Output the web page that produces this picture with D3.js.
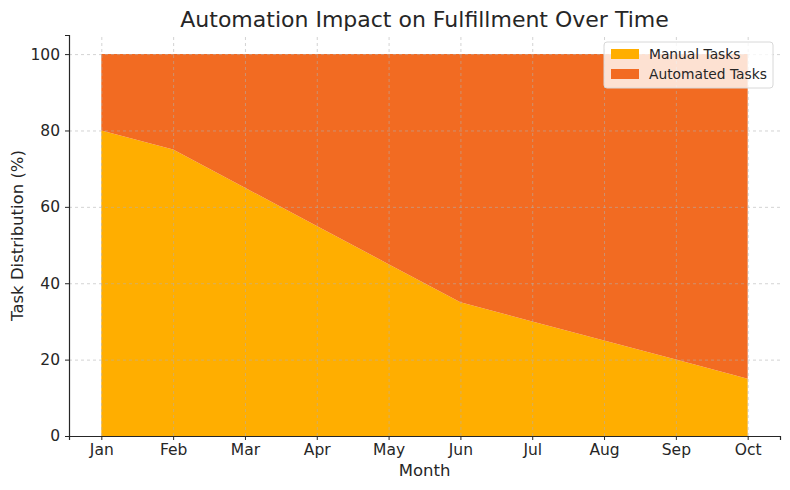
<!DOCTYPE html>
<html>
<head>
<meta charset="utf-8">
<script src="https://cdn.jsdelivr.net/npm/d3@7"></script>
<style>
  body { margin: 0; background: #fff; }
  text { font-family: "DejaVu Sans", sans-serif; fill: #262626; }
  .grid line { stroke: #b0b0b0; stroke-dasharray: 3,3; stroke-width: 0.7; opacity: 0.8; }
  .grid path { display: none; }
</style>
</head>
<body>
<div id="chart"></div>
<script>
// data
const months = ["Jan", "Feb", "Mar", "Apr", "May", "Jun", "Jul", "Aug", "Sep", "Oct"];
const manualTasks = [80, 75, 65, 55, 45, 35, 30, 25, 20, 15];
const automatedTasks = [20, 25, 35, 45, 55, 65, 70, 75, 80, 85];
const seriesNames = ["Manual Tasks", "Automated Tasks"];
const seriesColors = ["#ffae00", "#f26b22"];
const yTicks = [0, 20, 40, 60, 80, 100];

const width = 790, height = 490;
const margin = {top: 35, right: 10, bottom: 54, left: 69};
const innerW = width - margin.left - margin.right;
const innerH = height - margin.top - margin.bottom;

const svg = d3.select("#chart").append("svg")
    .attr("width", width)
    .attr("height", height);

const g = svg.append("g")
    .attr("transform", `translate(${margin.left},${margin.top})`);

// scales
const x = d3.scaleLinear().domain([-0.45, months.length - 1 + 0.45]).range([0, innerW]);
const y = d3.scaleLinear().domain([0, 105]).range([innerH, 0]);

// stack the two series
const rows = months.map((m, i) => ({month: m, idx: i, manual: manualTasks[i], automated: automatedTasks[i]}));
const stack = d3.stack().keys(["manual", "automated"]);
const layers = stack(rows);

const area = d3.area()
    .x(d => x(d.data.idx))
    .y0(d => y(d[0]))
    .y1(d => y(d[1]));

g.selectAll(".layer")
    .data(layers)
    .enter()
    .append("path")
    .attr("class", "layer")
    .attr("d", area)
    .attr("fill", (d, i) => seriesColors[i]);

// grid on top of areas
g.append("g")
    .attr("class", "grid")
    .attr("transform", `translate(0,${innerH})`)
    .call(d3.axisBottom(x).tickValues(d3.range(months.length)).tickSize(-innerH).tickFormat(""));

g.append("g")
    .attr("class", "grid")
    .call(d3.axisLeft(y).tickValues(yTicks).tickSize(-innerW).tickFormat(""));

// axes
const xAxis = g.append("g")
    .attr("transform", `translate(0,${innerH})`)
    .call(d3.axisBottom(x).tickValues(d3.range(months.length)).tickFormat(i => months[i]).tickSize(4).tickPadding(4));

const yAxis = g.append("g")
    .call(d3.axisLeft(y).tickValues(yTicks).tickSize(4).tickPadding(5));

[xAxis, yAxis].forEach(a => {
    a.select(".domain").attr("stroke", "#262626").attr("stroke-width", 1.2);
    a.selectAll(".tick line").attr("stroke", "#262626");
    a.selectAll(".tick text").style("font-size", "15.5px").attr("fill", "#262626");
});

// title and labels
svg.append("text")
    .attr("x", margin.left + innerW / 2)
    .attr("y", 27)
    .attr("text-anchor", "middle")
    .style("font-size", "22px")
    .text("Automation Impact on Fulfillment Over Time");

svg.append("text")
    .attr("x", margin.left + innerW / 2)
    .attr("y", 476)
    .attr("text-anchor", "middle")
    .style("font-size", "16.5px")
    .text("Month");

svg.append("text")
    .attr("transform", `translate(23,${margin.top + innerH / 2}) rotate(-90)`)
    .attr("text-anchor", "middle")
    .style("font-size", "16.5px")
    .text("Task Distribution (%)");

// legend
const legend = svg.append("g").attr("transform", "translate(604,42)");
legend.append("rect")
    .attr("width", 169)
    .attr("height", 46)
    .attr("rx", 3)
    .attr("fill", "rgba(255,255,255,0.8)")
    .attr("stroke", "#d8d8d8");

seriesNames.forEach((name, i) => {
    const row = legend.append("g").attr("transform", `translate(7,${7 + i * 20})`);
    row.append("rect")
        .attr("width", 28)
        .attr("height", 10)
        .attr("fill", seriesColors[i]);
    row.append("text")
        .attr("x", 38)
        .attr("y", 10)
        .style("font-size", "13.8px")
        .text(name);
});
</script>
</body>
</html>
